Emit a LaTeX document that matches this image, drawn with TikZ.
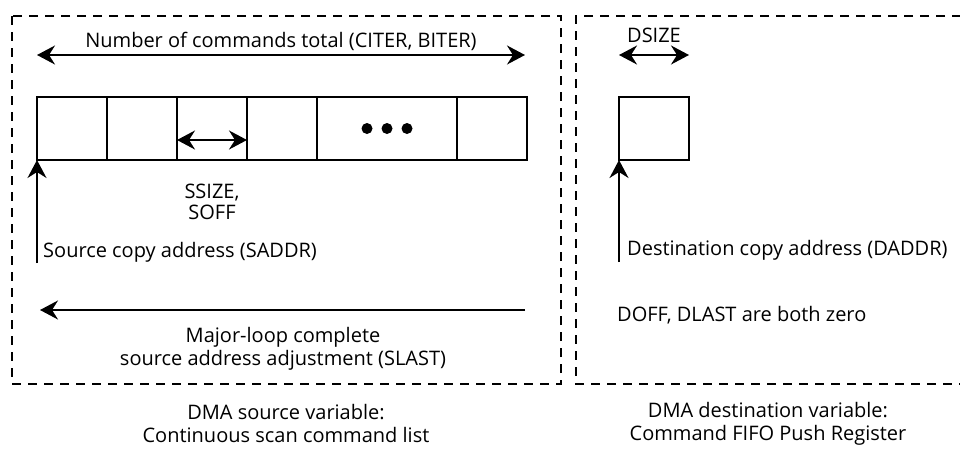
\documentclass[tikz,border=0pt]{standalone}
\usepackage{fontspec}
\setmainfont{Open Sans}
\usetikzlibrary{arrows.meta,positioning}

\begin{document}
\begin{tikzpicture}[x=1pt, y=-1pt,
    boxline/.style={line width=2pt, dash pattern=on 9pt off 7pt},
    cell/.style={draw, line width=2pt, minimum width=70pt, minimum height=63pt,
      inner sep=0pt, outer sep=0pt},
    span arrow/.style={line width=2pt, {Stealth[length=18pt, width=19pt, inset=6pt]}-{Stealth[length=18pt, width=19pt, inset=6pt]}},
    one arrow/.style={line width=2pt, -{Stealth[length=18pt, width=19pt, inset=6pt]}},
    txt/.style={font=\fontsize{20}{23}\selectfont, inner sep=0pt, align=center}]

  \useasboundingbox (0,0) rectangle (960,448);

  % ===== Dashed frames =====
  \draw[boxline] (12,16) rectangle (561,384);
  \draw[boxline] (961,16) -- (576,16) -- (576,384) -- (961,384);

  % ===== Source command list =====
  \node[cell] (c1) at (72,128.5) {};
  \node[cell, right=0pt of c1] (c2) {};
  \node[cell, right=0pt of c2] (c3) {};
  \node[cell, right=0pt of c3] (c4) {};
  \node[cell, right=0pt of c4, minimum width=140pt] (c5) {};
  \node[cell, right=0pt of c5] (c6) {};
  \foreach \dx in {-20,0,20}
    \fill ([xshift=\dx pt]c5.center) circle (5.5pt);

  % total count arrow
  \coordinate (ntl) at (37,55);
  \coordinate (ntr) at (525,55);
  \draw[span arrow] (ntl) -- (ntr)
    node[txt, midway, above=3pt] (ntot) {Number of commands total (CITER, BITER)};

  % element size arrow
  \coordinate (sz1) at ([yshift=-11.5pt]c3.west);
  \coordinate (sz2) at ([yshift=-11.5pt]c3.east);
  \draw[span arrow] (sz1) -- (sz2);
  \node[txt, font=\fontsize{20}{21}\selectfont] (ssize) at (212,202) {SSIZE,\\SOFF};

  % source address
  \coordinate (sa) at (37,263);
  \draw[one arrow] (sa) -- (c1.south west);
  \node[txt, anchor=west] (saddr) at (43,252) {Source copy address (SADDR)};

  % last adjustment
  \coordinate (sl1) at (525,310);
  \coordinate (sl2) at (40,310);
  \draw[one arrow] (sl1) -- (sl2);
  \node[txt] (slast) at (283,349) {Major-loop complete\\source address adjustment (SLAST)};

  % ===== Destination register =====
  \node[cell] (dst) at (654,128.5) {};
  \coordinate (ds1) at ([yshift=42pt]dst.north west);
  \coordinate (ds2) at ([yshift=42pt]dst.north east);
  \draw[span arrow] (ds1) -- (ds2);
  \node[txt] (dsize) at (654,35) {DSIZE};

  \coordinate (da) at (619,262);
  \draw[one arrow] (da) -- (dst.south west);
  \node[txt, anchor=west] (daddr) at (627,250) {Destination copy address (DADDR)};
  \node[txt, anchor=west] (dzero) at (617,315) {DOFF, DLAST are both zero};

  % ===== Captions =====
  \node[txt] (srccap) at (286,423.5) {DMA source variable:\\Continuous scan command list};
  \node[txt] (dstcap) at (768,423.5) {DMA destination variable:\\Command FIFO Push Register};

\end{tikzpicture}
\end{document}
